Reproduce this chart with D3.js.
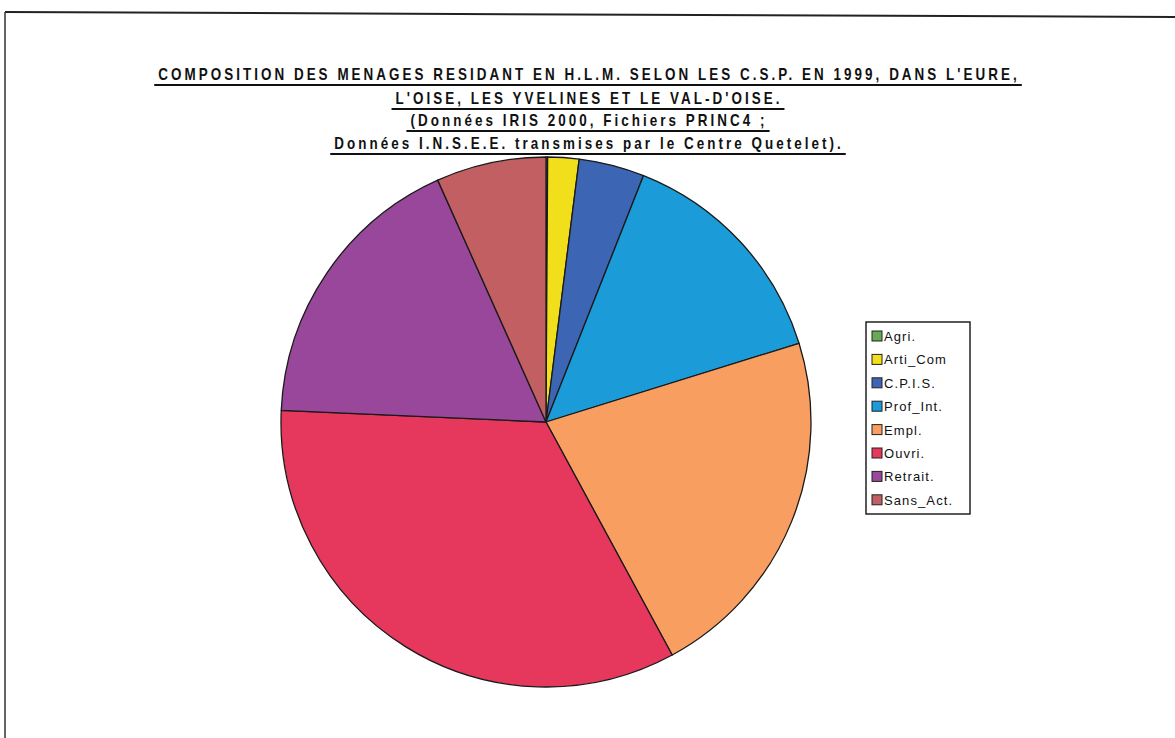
<!DOCTYPE html>
<html>
<head>
<meta charset="utf-8">
<script src="https://cdn.jsdelivr.net/npm/d3@7"></script>
<style>
html,body{margin:0;padding:0;background:#fff;}
svg{display:block;}
</style>
</head>
<body>
<svg id="chart" width="1175" height="738"></svg>
<script>
const categories = ["Agri.", "Arti_Com", "C.P.I.S.", "Prof_Int.", "Empl.", "Ouvri.", "Retrait.", "Sans_Act."];
const values = [0.1, 1.9, 4.0, 14.2, 21.9, 33.6, 17.6, 6.7];
const colors = ["#66aa55", "#f2df1c", "#3c66b4", "#1b9bd7", "#f89e60", "#e6375c", "#99479b", "#c25f62"];
const titleLines = [
  "COMPOSITION DES MENAGES RESIDANT EN H.L.M. SELON LES C.S.P. EN 1999, DANS L'EURE,",
  "L'OISE, LES YVELINES ET LE VAL-D'OISE.",
  "(Données IRIS 2000, Fichiers PRINC4 ;",
  "Données I.N.S.E.E. transmises par le Centre Quetelet)."
];

const svg = d3.select("#chart");

// scanned frame (top + left edges)
svg.append("line").attr("x1", 5).attr("y1", 12).attr("x2", 1175).attr("y2", 17)
  .attr("stroke", "#222").attr("stroke-width", 2);
svg.append("line").attr("x1", 5).attr("y1", 12).attr("x2", 5).attr("y2", 738)
  .attr("stroke", "#333").attr("stroke-width", 1.5);

// title (condensed bold look via horizontal scaling)
const titleFont = "'Liberation Sans',Arial,sans-serif";
const fs = 16, sx = 0.84;
const cx0 = 589;
const baselines = [80, 104, 126, 149];
const t0 = svg.append("text").attr("font-family", titleFont).attr("font-weight", "bold")
  .attr("font-size", fs).text(titleLines[0]);
const nat = t0.node().getComputedTextLength();
t0.remove();
const ls = (862 / sx - nat) / titleLines[0].length;
titleLines.forEach((s, i) => {
  const t = svg.append("text")
    .attr("transform", `translate(${cx0},${baselines[i]}) scale(${sx},1)`)
    .attr("text-anchor", "middle")
    .attr("font-family", titleFont).attr("font-weight", "bold")
    .attr("font-size", fs).attr("letter-spacing", ls)
    .attr("fill", "#111").text(s);
  const w = t.node().getComputedTextLength() * sx;
  svg.append("line")
    .attr("x1", cx0 - w / 2 - 4).attr("x2", cx0 + w / 2 + 2)
    .attr("y1", baselines[i] + 5).attr("y2", baselines[i] + 5)
    .attr("stroke", "#111").attr("stroke-width", 2);
});

// pie
const cx = 546, cy = 422, r = 265;
const pie = d3.pie().sort(null).value(d => d.v);
const data = categories.map((c, i) => ({c, v: values[i], col: colors[i]}));
const arc = d3.arc().innerRadius(0).outerRadius(r);
const g = svg.append("g").attr("transform", `translate(${cx},${cy})`);
g.selectAll("path").data(pie(data)).join("path")
  .attr("d", arc)
  .attr("fill", d => d.data.col)
  .attr("stroke", "#1a1a1a").attr("stroke-width", 1.3).attr("stroke-linejoin", "round");

// legend
const lx = 866, ly = 322, lw = 104, lh = 192;
svg.append("rect").attr("x", lx).attr("y", ly).attr("width", lw).attr("height", lh)
  .attr("fill", "#fff").attr("stroke", "#222").attr("stroke-width", 1.5);
const step = 23.4;
const lg = svg.append("g");
data.forEach((d, i) => {
  const y = ly + 14 + i * step;
  lg.append("rect").attr("x", lx + 6).attr("y", y - 5).attr("width", 10).attr("height", 10)
    .attr("fill", d.col).attr("stroke", "#222").attr("stroke-width", 1);
  lg.append("text").attr("x", lx + 18).attr("y", y + 5)
    .attr("font-family", "'Liberation Sans',Arial,sans-serif")
    .attr("font-size", 13).attr("letter-spacing", 1.1)
    .attr("fill", "#111").text(d.c);
});
</script>
</body>
</html>
